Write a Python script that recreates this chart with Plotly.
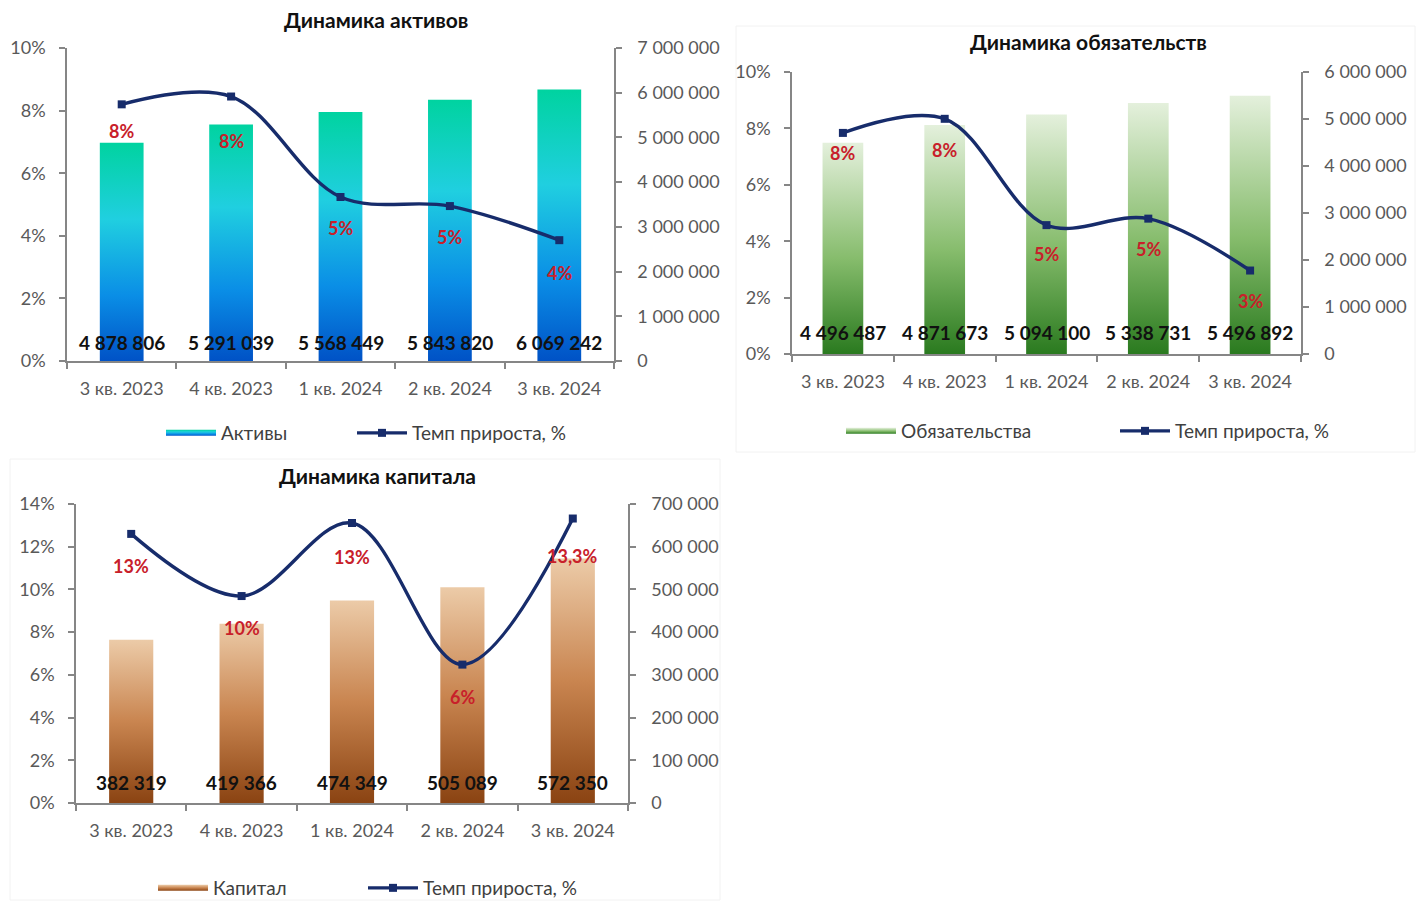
import plotly.graph_objects as go

# ---------------- data ----------------
categories = ["3 кв. 2023", "4 кв. 2023", "1 кв. 2024", "2 кв. 2024", "3 кв. 2024"]

assets = [4878806, 5291039, 5568449, 5843820, 6069242]
assets_growth = [8.2, 8.45, 5.24, 4.95, 3.86]
assets_growth_labels = ["8%", "8%", "5%", "5%", "4%"]

liabilities = [4496487, 4871673, 5094100, 5338731, 5496892]
liabilities_growth = [7.84, 8.34, 4.57, 4.80, 2.96]
liabilities_growth_labels = ["8%", "8%", "5%", "5%", "3%"]

capital = [382319, 419366, 474349, 505089, 572350]
capital_growth = [12.6, 9.69, 13.11, 6.48, 13.32]
capital_growth_labels = ["13%", "10%", "13%", "6%", "13,3%"]

growth_name = "Темп прироста, %"

# ---------------- styles ----------------
W, H = 1421, 901
FONT = "Lato, 'Liberation Sans Narrow', 'DejaVu Sans', sans-serif"
AXIS_COLOR = "#868686"
TICK_COLOR = "#595959"
LINE_COLOR = "#172C6B"
LABEL_RED = "#C8202A"
BAR_HALF = 0.2

def px_x(v):
    return v / W

def px_y(v):
    return 1 - v / H

charts = [
    dict(title="Динамика активов", name="Активы", bars=assets, growth=assets_growth,
         labels=assets_growth_labels,
         colorscale=[[0, "#0052C6"], [0.3, "#0A8EE6"], [0.65, "#20CFE0"], [1, "#00D3A0"]],
         box=(67, 614, 48, 361), pmax=10, pdtick=2, vmax=7e6, vdtick=1e6,
         title_pos=(376, 19), legend_bar=(161, 433), legend_line=(352, 433),
         value_shift=18, label_shift=[-27, -44, -31, -31, -33]),
    dict(title="Динамика обязательств", name="Обязательства", bars=liabilities, growth=liabilities_growth,
         labels=liabilities_growth_labels,
         colorscale=[[0, "#2A7A1F"], [0.45, "#86BC6C"], [1, "#E4F0DC"]],
         box=(792, 1301, 72, 354), pmax=10, pdtick=2, vmax=6e6, vdtick=1e6,
         title_pos=(1088, 42), legend_bar=(841, 431), legend_line=(1115, 431),
         value_shift=22, label_shift=[-20, -31, -29, -30, -30]),
    dict(title="Динамика капитала", name="Капитал", bars=capital, growth=capital_growth,
         labels=capital_growth_labels,
         colorscale=[[0, "#8A4312"], [0.5, "#C98550"], [1, "#ECCBA8"]],
         box=(76, 628, 504, 803), pmax=14, pdtick=2, vmax=7e5, vdtick=1e5,
         title_pos=(377, 475), legend_bar=(153, 888), legend_line=(363, 888),
         value_shift=21, label_shift=[-32, -32, -34, -32, -37]),
]

fig = go.Figure()
annotations = []
layout_axes = {}

def legend_cfg(pos):
    lx, ly = pos
    return dict(
        x=px_x(lx), y=px_y(ly), xanchor="left", yanchor="middle",
        orientation="h", itemwidth=50,
        font=dict(family=FONT, size=19, color="#404040"),
        bgcolor="rgba(0,0,0,0)", tracegroupgap=0,
    )

for k, c in enumerate(charts):
    n = k + 1
    xa = "x" if n == 1 else f"x{n}"
    yv = "y" if n == 1 else f"y{2*n-1}"       # values axis (base, right side)
    yp = f"y{2*n}"                              # percent axis (overlay, left side)
    leg_bar = "legend" if n == 1 else f"legend{2*n-1}"
    leg_line = f"legend{2*n}"
    x0, x1, yt, yb = c["box"]
    xdom = [px_x(x0), px_x(x1)]
    ydom = [px_y(yb), px_y(yt)]

    # gradient bars
    for i, v in enumerate(c["bars"]):
        fig.add_trace(go.Scatter(
            x=[i - BAR_HALF, i - BAR_HALF, i + BAR_HALF, i + BAR_HALF, i - BAR_HALF],
            y=[0, v, v, 0, 0],
            mode="none", fill="toself",
            fillgradient=dict(type="vertical", colorscale=c["colorscale"]),
            name=c["name"], legendgroup=f"bars{n}", showlegend=(i == 0),
            legend=leg_bar, xaxis=xa, yaxis=yv, hoverinfo="skip",
        ))
        annotations.append(dict(
            x=i, y=0, xref=xa, yref=yv, yshift=c["value_shift"],
            text=f"{v:,}".replace(",", " "), showarrow=False,
            font=dict(family=FONT, size=19, color="#111111", weight="bold"),
        ))

    # growth line
    fig.add_trace(go.Scatter(
        x=list(range(len(categories))), y=c["growth"],
        mode="lines+markers",
        line=dict(color=LINE_COLOR, width=3.4, shape="spline", smoothing=1.0),
        marker=dict(symbol="square", size=8, color=LINE_COLOR),
        name=growth_name, legend=leg_line, xaxis=xa, yaxis=yp, hoverinfo="skip",
    ))
    for i, (g, lab) in enumerate(zip(c["growth"], c["labels"])):
        annotations.append(dict(
            x=i, y=g, xref=xa, yref=yp, yshift=c["label_shift"][i],
            text=lab, showarrow=False,
            font=dict(family=FONT, size=18, color=LABEL_RED, weight="bold"),
        ))

    # title
    tx, ty = c["title_pos"]
    annotations.append(dict(
        x=px_x(tx), y=px_y(ty), xref="paper", yref="paper",
        xanchor="center", yanchor="middle",
        text=f"<b>{c['title']}</b>", showarrow=False,
        font=dict(family=FONT, size=21, color="#111111"),
    ))

    xkey = "xaxis" if n == 1 else f"xaxis{n}"
    yvkey = "yaxis" if n == 1 else f"yaxis{2*n-1}"
    ypkey = f"yaxis{2*n}"
    layout_axes[xkey] = dict(
        domain=xdom, anchor=yv, range=[-0.5, len(categories) - 0.5],
        tickmode="array", tickvals=list(range(len(categories))), ticktext=categories,
        ticks="", showgrid=False, zeroline=False,
        showline=True, linecolor=AXIS_COLOR, linewidth=1.5,
        tickfont=dict(family=FONT, size=18, color=TICK_COLOR),
        ticklabelstandoff=11,
        minor=dict(tickmode="array", tickvals=[i - 0.5 for i in range(len(categories) + 1)],
                   ticks="outside", ticklen=6, tickwidth=1.5, tickcolor=AXIS_COLOR, showgrid=False),
    )
    layout_axes[yvkey] = dict(
        domain=ydom, anchor=xa, side="right", range=[0, c["vmax"]],
        tickmode="linear", tick0=0, dtick=c["vdtick"], tickformat=",d",
        ticks="outside", ticklen=6, tickwidth=1.5, tickcolor=AXIS_COLOR,
        showline=True, linecolor=AXIS_COLOR, linewidth=1.5,
        showgrid=False, zeroline=False,
        tickfont=dict(family=FONT, size=18, color=TICK_COLOR),
        ticklabelstandoff=12,
    )
    layout_axes[ypkey] = dict(
        overlaying=yv, anchor=xa, side="left", range=[0, c["pmax"]],
        tickmode="linear", tick0=0, dtick=c["pdtick"], ticksuffix="%",
        ticks="outside", ticklen=6, tickwidth=1.5, tickcolor=AXIS_COLOR,
        showline=True, linecolor=AXIS_COLOR, linewidth=1.5,
        showgrid=False, zeroline=False,
        tickfont=dict(family=FONT, size=18, color=TICK_COLOR),
        ticklabelstandoff=10,
    )
    layout_axes[leg_bar] = legend_cfg(c["legend_bar"])
    layout_axes[leg_line] = legend_cfg(c["legend_line"])

shapes = [
    dict(type="rect", xref="paper", yref="paper",
         x0=px_x(736), x1=px_x(1415), y0=px_y(452), y1=px_y(26),
         line=dict(color="#F2F2F2", width=1), fillcolor="rgba(0,0,0,0)", layer="below"),
    dict(type="rect", xref="paper", yref="paper",
         x0=px_x(10), x1=px_x(720), y0=px_y(900), y1=px_y(459),
         line=dict(color="#F2F2F2", width=1), fillcolor="rgba(0,0,0,0)", layer="below"),
]

fig.update_layout(
    width=W, height=H,
    margin=dict(l=0, r=0, t=0, b=0, autoexpand=False),
    paper_bgcolor="white", plot_bgcolor="rgba(0,0,0,0)",
    separators=", ",
    annotations=annotations, shapes=shapes,
    font=dict(family=FONT),
    **layout_axes,
)

fig.write_html("out.html")
